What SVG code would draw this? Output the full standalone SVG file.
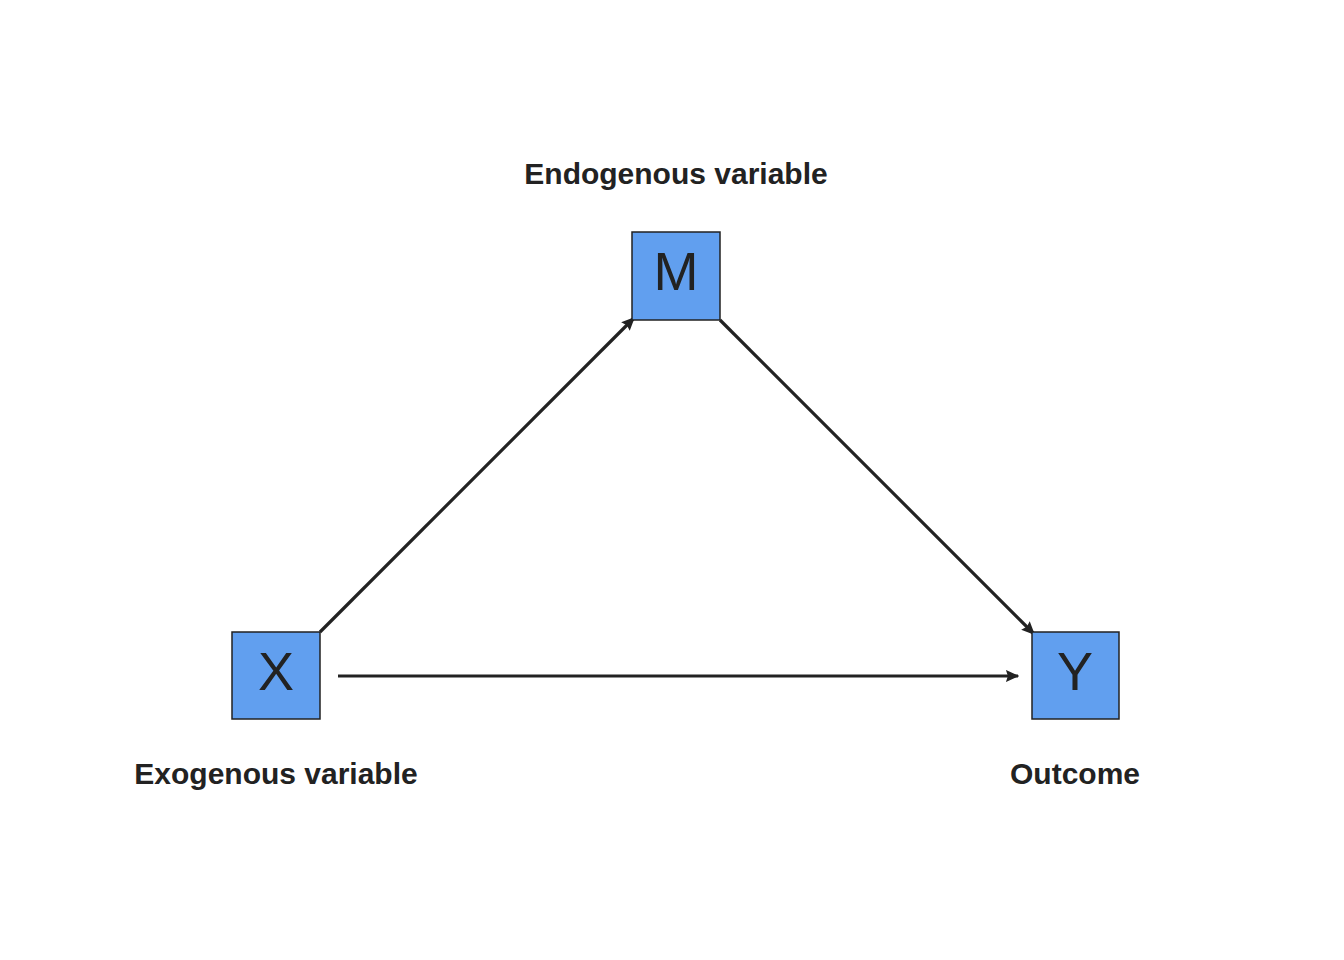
<svg xmlns="http://www.w3.org/2000/svg" width="1344" height="960" viewBox="0 0 1344 960">
<style>
.box{fill:#619FEF;stroke:#222;stroke-width:1.5}
.let{font-family:"Liberation Sans",Arial,sans-serif;font-size:54px;fill:#222;text-anchor:middle}
.lab{font-family:"Liberation Sans",Arial,sans-serif;font-size:30px;font-weight:bold;fill:#222;text-anchor:middle}
.edge{stroke:#222;stroke-width:3.2;fill:none;marker-end:url(#ah)}
</style>
<defs>
<marker id="ah" viewBox="0 0 10 10" refX="9" refY="5" markerWidth="4.2" markerHeight="4.2" orient="auto" markerUnits="strokeWidth">
<path d="M0,0.5 L10,5 L0,9.5 L1.5,5 Z" fill="#222"/>
</marker>
</defs>
<rect width="1344" height="960" fill="#fff"/>
<g id="connectors">
<line class="edge" x1="320" y1="632" x2="634" y2="318"/>
<line class="edge" x1="720" y1="320" x2="1034" y2="634"/>
<line class="edge" x1="338" y1="676" x2="1018" y2="676"/>
</g>
<g id="node-X">
<rect class="box" x="232" y="632" width="88" height="87"/>
<text class="let" x="276" y="690">X</text>
<text class="lab" x="276" y="784">Exogenous variable</text>
</g>
<g id="node-M">
<rect class="box" x="632" y="232" width="88" height="88"/>
<text class="let" x="676" y="290">M</text>
<text class="lab" x="676" y="184">Endogenous variable</text>
</g>
<g id="node-Y">
<rect class="box" x="1032" y="632" width="87" height="87"/>
<text class="let" x="1075" y="690">Y</text>
<text class="lab" x="1075" y="784">Outcome</text>
</g>
</svg>
